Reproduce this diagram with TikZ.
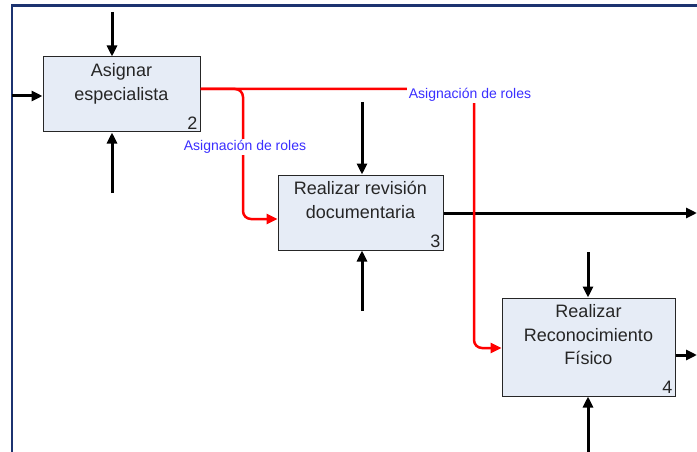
\documentclass[tikz,border=0pt]{standalone}
\usepackage{fontspec}
\setmainfont{Liberation Sans}
\usetikzlibrary{arrows.meta}
\definecolor{boxfill}{HTML}{E6ECF6}
\definecolor{framenavy}{HTML}{1C3370}
\definecolor{lblblue}{HTML}{3A2EFF}
\tikzset{
  actbox/.style={draw=black!85, fill=boxfill, line width=1pt, inner sep=0pt},
  acttext/.style={anchor=north, align=center, font=\fontsize{18}{23.5}\selectfont, text=black!85, inner sep=0pt},
  actnum/.style={anchor=south east, font=\fontsize{18}{20}\selectfont, text=black!85, inner sep=0pt},
  flow/.style={line width=3pt, -{Triangle[length=11pt,width=10pt]}},
  roleflow/.style={draw=red, line width=2.5pt, rounded corners=8pt},
  rolearrow/.style={roleflow, -{Triangle[length=11pt,width=10pt]}},
  rolelbl/.style={fill=white, text=lblblue, font=\fontsize{14}{15}\selectfont, inner sep=1.5pt}
}
\begin{document}
\begin{tikzpicture}[x=1pt,y=-1pt]
\useasboundingbox (0,0) rectangle (697,452);
\fill[white] (0,0) rectangle (697,452);
% page frame
\draw[framenavy, line width=2.5pt] (12,460) -- (12,5.5) -- (705,5.5);

% activity boxes
\node[actbox, minimum width=157pt, minimum height=75pt] (b2) at (121.5,94.5) {};
\node[acttext] (t2) at ([yshift=-7pt]b2.north) {Asignar\\especialista};
\node[actnum] (n2) at ([xshift=-3pt,yshift=3pt]b2.south east) {2};

\node[actbox, minimum width=165pt, minimum height=75pt] (b3) at (360.5,212.5) {};
\node[acttext] (t3) at ([yshift=-7pt]b3.north) {Realizar revisión\\documentaria};
\node[actnum] (n3) at ([xshift=-3pt,yshift=3pt]b3.south east) {3};

\node[actbox, minimum width=173pt, minimum height=98pt] (b4) at (588.5,347) {};
\node[acttext] (t4) at ([yshift=-7pt]b4.north) {Realizar\\Reconocimiento\\Físico};
\node[actnum] (n4) at ([xshift=-3pt,yshift=3pt]b4.south east) {4};

% free ends of the black arrows
\coordinate (c2t) at (112,12);
\coordinate (c2b) at (112,193);
\coordinate (c2i) at (12,96);
\coordinate (c3t) at (362,102);
\coordinate (c3b) at (362,311);
\coordinate (c3o) at (697,213);
\coordinate (c4t) at (588,252);
\coordinate (c4b) at (588,452);
\coordinate (c4o) at (697,355);

\draw[flow] (c2t) -- (c2t |- b2.north);
\draw[flow] (c2b) -- (c2b |- b2.south);
\draw[flow] (c2i) -- (c2i -| b2.west);
\draw[flow] (c3t) -- (c3t |- b3.north);
\draw[flow] (c3b) -- (c3b |- b3.south);
\draw[flow] (c3o -| b3.east) -- (c3o);
\draw[flow] (c4t) -- (c4t |- b4.north);
\draw[flow] (c4b) -- (c4b |- b4.south);
\draw[flow] (c4o -| b4.east) -- (c4o);

% role assignment flows
\coordinate (r0) at (200,89);
\draw[rolearrow] (r0 -| b2.east) -- (474,89) -- (474,348) -- (b4.west |- 0,348);
\draw[rolearrow] (r0 -| b2.east) -- (243,89) -- (243,219) -- (b3.west |- 0,219);

\node[rolelbl] (l1) at (245,147) {Asignación de roles};
\node[rolelbl] (l2) at (470,95) {Asignación de roles};
\end{tikzpicture}
\end{document}
